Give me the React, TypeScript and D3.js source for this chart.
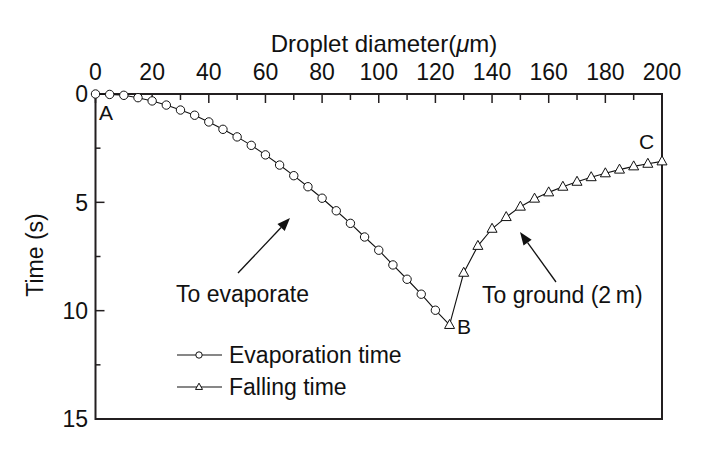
import React from "react";
import * as d3 from "d3";

const evapDiameter = [0, 5, 10, 15, 20, 25, 30, 35, 40, 45, 50, 55, 60, 65, 70, 75, 80, 85, 90, 95, 100, 105, 110, 115, 120];
const evapTime = [0, 0.02, 0.06, 0.17, 0.32, 0.51, 0.74, 0.98, 1.29, 1.63, 1.98, 2.37, 2.81, 3.28, 3.77, 4.28, 4.81, 5.39, 5.97, 6.6, 7.21, 7.89, 8.55, 9.24, 9.98];
const fallDiameter = [125, 130, 135, 140, 145, 150, 155, 160, 165, 170, 175, 180, 185, 190, 195, 200];
const fallTime = [10.66, 8.25, 7.01, 6.22, 5.68, 5.2, 4.83, 4.54, 4.28, 4.05, 3.84, 3.66, 3.49, 3.34, 3.22, 3.11];
const xTicks = [0, 20, 40, 60, 80, 100, 120, 140, 160, 180, 200];
const xMinorTicks = [10, 30, 50, 70, 90, 110, 130, 150, 170, 190];
const yTicks = [0, 5, 10, 15];
const yMinorTicks = [2.5, 7.5, 12.5];

const FONT = "'Liberation Sans', Arial, Helvetica, sans-serif";

export default function App() {
  const x = d3.scaleLinear().domain([0, 200]).range([95.5, 662]);
  const y = d3.scaleLinear().domain([0, 15]).range([94, 419]);

  const evapPts: [number, number][] = evapDiameter.map((d, i) => [d, evapTime[i]]);
  const fallPts: [number, number][] = fallDiameter.map((d, i) => [d, fallTime[i]]);
  const line = d3
    .line<[number, number]>()
    .x((d) => x(d[0]))
    .y((d) => y(d[1]));

  const tri = (cx: number, cy: number, s = 1) =>
    `M${cx},${cy - 5.5 * s}L${cx + 5 * s},${cy + 3.5 * s}L${cx - 5 * s},${cy + 3.5 * s}Z`;

  const arrow = (x1: number, y1: number, x2: number, y2: number) => {
    const ang = Math.atan2(y2 - y1, x2 - x1);
    const len = 13;
    const w = 5;
    const bx = x2 - len * Math.cos(ang);
    const by = y2 - len * Math.sin(ang);
    const px = -Math.sin(ang) * w;
    const py = Math.cos(ang) * w;
    return (
      <g>
        <line x1={x1} y1={y1} x2={bx} y2={by} stroke="#111" strokeWidth={1.3} />
        <path d={`M${x2},${y2}L${bx + px},${by + py}L${bx - px},${by - py}Z`} fill="#111" />
      </g>
    );
  };

  const left = x(0);
  const right = x(200);
  const top = y(0);
  const bottom = y(15);

  return (
    <svg
      width={701}
      height={450}
      style={{ position: "absolute", left: 0, top: 0, background: "#fff" }}
      fontFamily={FONT}
    >
      <rect width={701} height={450} fill="#fff" />
      <rect x={left} y={top} width={right - left} height={bottom - top} fill="none" stroke="#231f20" strokeWidth={2} />
      {xTicks.map((t) => (
        <g key={"xt" + t}>
          <line x1={x(t)} x2={x(t)} y1={top} y2={top + 9} stroke="#231f20" strokeWidth={1.5} />
          <text x={x(t)} y={80} textAnchor="middle" fontSize={23} fill="#111">
            {t}
          </text>
        </g>
      ))}
      {xMinorTicks.map((t) => (
        <line key={"xm" + t} x1={x(t)} x2={x(t)} y1={top} y2={top + 6} stroke="#231f20" strokeWidth={1.5} />
      ))}
      {yTicks.map((t) => (
        <g key={"yt" + t}>
          <line x1={left} x2={left + 9} y1={y(t)} y2={y(t)} stroke="#231f20" strokeWidth={1.5} />
          <text x={88} y={y(t)} dy="0.36em" textAnchor="end" fontSize={23} fill="#111">
            {t}
          </text>
        </g>
      ))}
      {yMinorTicks.map((t) => (
        <line key={"ym" + t} x1={left} x2={left + 5} y1={y(t)} y2={y(t)} stroke="#231f20" strokeWidth={1.5} />
      ))}
      <text x={384} y={52} textAnchor="middle" fontSize={24} fill="#111">
        Droplet diameter(<tspan fontStyle="italic">μ</tspan>m)
      </text>
      <text transform={`translate(43,255) rotate(-90)`} textAnchor="middle" fontSize={23} fill="#111">
        Time (s)
      </text>
      <path d={line([...evapPts, fallPts[0]]) || ""} fill="none" stroke="#111" strokeWidth={1.1} />
      <path d={line(fallPts) || ""} fill="none" stroke="#111" strokeWidth={1.1} />
      {evapPts.map((p, i) => (
        <circle key={"c" + i} cx={x(p[0])} cy={y(p[1])} r={4.2} fill="#fff" stroke="#111" strokeWidth={1} />
      ))}
      {fallPts.map((p, i) => (
        <path key={"t" + i} d={tri(x(p[0]), y(p[1]))} fill="#fff" stroke="#111" strokeWidth={1} />
      ))}
      <text x={99} y={120} fontSize={21} fill="#111">A</text>
      <text x={457} y={334} fontSize={21} fill="#111">B</text>
      <text x={639} y={149} fontSize={21} fill="#111">C</text>
      <text x={176} y={302} fontSize={23} fill="#111">To evaporate</text>
      {arrow(238, 273, 290, 218)}
      <text x={482} y={303} fontSize={23} fill="#111">To ground (2{"\u2009"}m)</text>
      {arrow(556, 282, 520, 232)}
      <line x1={177} x2={222} y1={355} y2={355} stroke="#111" strokeWidth={1.1} />
      <circle cx={199} cy={355} r={3.2} fill="#fff" stroke="#111" strokeWidth={1} />
      <text x={229} y={355} dy="0.36em" fontSize={23} fill="#111">Evaporation time</text>
      <line x1={177} x2={222} y1={387} y2={387} stroke="#111" strokeWidth={1.1} />
      <path d={tri(199, 387, 0.7)} fill="#fff" stroke="#111" strokeWidth={1} />
      <text x={229} y={387} dy="0.36em" fontSize={23} fill="#111">Falling time</text>
    </svg>
  );
}
